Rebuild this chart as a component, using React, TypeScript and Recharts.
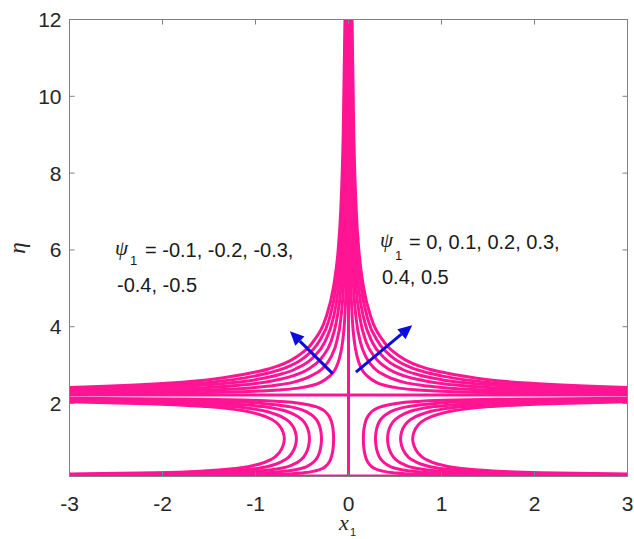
import React from 'react';
import { LineChart, Line, XAxis, YAxis, ReferenceLine } from 'recharts';

const W = 634;
const H = 539;

const xTicks = [-3, -2, -1, 0, 1, 2, 3];
const yTicks = [2, 4, 6, 8, 10, 12];

// lignes du jet (partie haute), côté droit : psi1 > 0
const fanRight = [
  [[0.006, 12], [0.009, 9], [0.014, 7], [0.019, 6], [0.027, 5], [0.041, 4.2], [0.064, 3.6], [0.095, 3.2], [0.14, 2.9], [0.21, 2.7], [0.3, 2.55], [0.5, 2.42], [0.75, 2.35], [1, 2.32], [1.5, 2.29], [2, 2.27], [3, 2.25]],
  [[0.013, 12], [0.019, 9], [0.028, 7], [0.037, 6], [0.055, 5], [0.083, 4.2], [0.128, 3.6], [0.19, 3.2], [0.285, 2.9], [0.42, 2.7], [0.6, 2.55], [0.8, 2.47], [1, 2.42], [1.5, 2.35], [2, 2.32], [3, 2.29]],
  [[0.019, 12], [0.028, 9], [0.042, 7], [0.056, 6], [0.082, 5], [0.125, 4.2], [0.19, 3.6], [0.285, 3.2], [0.43, 2.9], [0.6, 2.72], [0.8, 2.6], [1, 2.52], [1.5, 2.42], [2, 2.37], [3, 2.32]],
  [[0.025, 12], [0.038, 9], [0.056, 7], [0.074, 6], [0.109, 5], [0.166, 4.2], [0.255, 3.6], [0.38, 3.2], [0.57, 2.9], [0.75, 2.75], [1, 2.62], [1.5, 2.49], [2, 2.42], [3, 2.35]],
  [[0.032, 12], [0.047, 9], [0.07, 7], [0.092, 6], [0.137, 5], [0.207, 4.2], [0.32, 3.6], [0.474, 3.2], [0.71, 2.9], [0.85, 2.8], [1, 2.72], [1.5, 2.55], [2, 2.47], [3, 2.39]],
  [[0.038, 12], [0.057, 9], [0.084, 7], [0.111, 6], [0.164, 5], [0.248, 4.2], [0.383, 3.6], [0.57, 3.2], [0.86, 2.9], [1, 2.82], [1.5, 2.62], [2, 2.52], [3, 2.42]],
];

// côté gauche : psi1 < 0
const fanLeft = [
  [[-3, 2.25], [-2, 2.27], [-1.5, 2.29], [-1, 2.32], [-0.75, 2.35], [-0.5, 2.42], [-0.3, 2.55], [-0.21, 2.7], [-0.14, 2.9], [-0.095, 3.2], [-0.064, 3.6], [-0.041, 4.2], [-0.027, 5], [-0.019, 6], [-0.014, 7], [-0.009, 9], [-0.006, 12]],
  [[-3, 2.29], [-2, 2.32], [-1.5, 2.35], [-1, 2.42], [-0.8, 2.47], [-0.6, 2.55], [-0.42, 2.7], [-0.285, 2.9], [-0.19, 3.2], [-0.128, 3.6], [-0.083, 4.2], [-0.055, 5], [-0.037, 6], [-0.028, 7], [-0.019, 9], [-0.013, 12]],
  [[-3, 2.32], [-2, 2.37], [-1.5, 2.42], [-1, 2.52], [-0.8, 2.6], [-0.6, 2.72], [-0.43, 2.9], [-0.285, 3.2], [-0.19, 3.6], [-0.125, 4.2], [-0.082, 5], [-0.056, 6], [-0.042, 7], [-0.028, 9], [-0.019, 12]],
  [[-3, 2.35], [-2, 2.42], [-1.5, 2.49], [-1, 2.62], [-0.75, 2.75], [-0.57, 2.9], [-0.38, 3.2], [-0.255, 3.6], [-0.166, 4.2], [-0.109, 5], [-0.074, 6], [-0.056, 7], [-0.038, 9], [-0.025, 12]],
  [[-3, 2.39], [-2, 2.47], [-1.5, 2.55], [-1, 2.72], [-0.85, 2.8], [-0.71, 2.9], [-0.474, 3.2], [-0.32, 3.6], [-0.207, 4.2], [-0.137, 5], [-0.092, 6], [-0.07, 7], [-0.047, 9], [-0.032, 12]],
  [[-3, 2.42], [-2, 2.52], [-1.5, 2.62], [-1, 2.82], [-0.86, 2.9], [-0.57, 3.2], [-0.383, 3.6], [-0.248, 4.2], [-0.164, 5], [-0.111, 6], [-0.084, 7], [-0.057, 9], [-0.038, 12]],
];

// courbes en C sous la ligne psi1 = 0 (de haut en bas)
const cRight = [
  [[3, 2.14], [1.6, 2.11], [1.12, 2.09], [0.72, 2.05], [0.48, 1.99], [0.352, 1.92], [0.272, 1.83], [0.224, 1.72], [0.192, 1.59], [0.173, 1.43], [0.163, 1.26], [0.16, 1.08], [0.163, 0.9], [0.173, 0.72], [0.192, 0.55], [0.224, 0.42], [0.272, 0.32], [0.352, 0.25], [0.48, 0.2], [0.72, 0.16], [1.12, 0.14], [1.6, 0.13], [3, 0.12]],
  [[3, 2.115], [2.03, 2.09], [1.305, 2.05], [0.87, 1.99], [0.638, 1.92], [0.493, 1.83], [0.406, 1.72], [0.348, 1.59], [0.313, 1.43], [0.296, 1.26], [0.29, 1.08], [0.296, 0.9], [0.313, 0.72], [0.348, 0.55], [0.406, 0.42], [0.493, 0.32], [0.638, 0.25], [0.87, 0.2], [1.305, 0.16], [2.03, 0.14], [3, 0.13]],
  [[3, 2.09], [1.89, 2.05], [1.26, 1.99], [0.924, 1.92], [0.714, 1.83], [0.588, 1.72], [0.504, 1.59], [0.454, 1.43], [0.428, 1.26], [0.42, 1.08], [0.428, 0.9], [0.454, 0.72], [0.504, 0.55], [0.588, 0.42], [0.714, 0.32], [0.924, 0.25], [1.26, 0.2], [1.89, 0.16], [3, 0.14]],
  [[3, 2.065], [2.52, 2.05], [1.68, 1.99], [1.232, 1.92], [0.952, 1.83], [0.784, 1.72], [0.672, 1.59], [0.605, 1.43], [0.571, 1.26], [0.56, 1.08], [0.571, 0.9], [0.605, 0.72], [0.672, 0.55], [0.784, 0.42], [0.952, 0.32], [1.232, 0.25], [1.68, 0.2], [2.52, 0.16], [3, 0.15]],
  [[3, 2.045], [2.07, 1.99], [1.518, 1.92], [1.173, 1.83], [0.966, 1.72], [0.828, 1.59], [0.745, 1.43], [0.704, 1.26], [0.69, 1.08], [0.704, 0.9], [0.745, 0.72], [0.828, 0.55], [0.966, 0.42], [1.173, 0.32], [1.518, 0.25], [2.07, 0.2], [3, 0.165]],
];

const cLeft = [
  [[-3, 2.14], [-1.6, 2.11], [-1.12, 2.09], [-0.72, 2.05], [-0.48, 1.99], [-0.352, 1.92], [-0.272, 1.83], [-0.224, 1.72], [-0.192, 1.59], [-0.173, 1.43], [-0.163, 1.26], [-0.16, 1.08], [-0.163, 0.9], [-0.173, 0.72], [-0.192, 0.55], [-0.224, 0.42], [-0.272, 0.32], [-0.352, 0.25], [-0.48, 0.2], [-0.72, 0.16], [-1.12, 0.14], [-1.6, 0.13], [-3, 0.12]],
  [[-3, 2.115], [-2.03, 2.09], [-1.305, 2.05], [-0.87, 1.99], [-0.638, 1.92], [-0.493, 1.83], [-0.406, 1.72], [-0.348, 1.59], [-0.313, 1.43], [-0.296, 1.26], [-0.29, 1.08], [-0.296, 0.9], [-0.313, 0.72], [-0.348, 0.55], [-0.406, 0.42], [-0.493, 0.32], [-0.638, 0.25], [-0.87, 0.2], [-1.305, 0.16], [-2.03, 0.14], [-3, 0.13]],
  [[-3, 2.09], [-1.89, 2.05], [-1.26, 1.99], [-0.924, 1.92], [-0.714, 1.83], [-0.588, 1.72], [-0.504, 1.59], [-0.454, 1.43], [-0.428, 1.26], [-0.42, 1.08], [-0.428, 0.9], [-0.454, 0.72], [-0.504, 0.55], [-0.588, 0.42], [-0.714, 0.32], [-0.924, 0.25], [-1.26, 0.2], [-1.89, 0.16], [-3, 0.14]],
  [[-3, 2.065], [-2.52, 2.05], [-1.68, 1.99], [-1.232, 1.92], [-0.952, 1.83], [-0.784, 1.72], [-0.672, 1.59], [-0.605, 1.43], [-0.571, 1.26], [-0.56, 1.08], [-0.571, 0.9], [-0.605, 0.72], [-0.672, 0.55], [-0.784, 0.42], [-0.952, 0.32], [-1.232, 0.25], [-1.68, 0.2], [-2.52, 0.16], [-3, 0.15]],
  [[-3, 2.045], [-2.07, 1.99], [-1.518, 1.92], [-1.173, 1.83], [-0.966, 1.72], [-0.828, 1.59], [-0.745, 1.43], [-0.704, 1.26], [-0.69, 1.08], [-0.704, 0.9], [-0.745, 0.72], [-0.828, 0.55], [-0.966, 0.42], [-1.173, 0.32], [-1.518, 0.25], [-2.07, 0.2], [-3, 0.165]],
];

// psi1 = 0
const zeroVertical = [[0, 0.1], [0, 12]];
const zeroHorizontal = [[-3, 2.22], [3, 2.22]];
const wallLine = [[-2.85, 0.11], [2.85, 0.11]];

// flèches bleues (queue, pointe)
const arrowLeft = [[-0.17, 2.78], [-0.63, 3.88]];
const arrowRight = [[0.08, 2.82], [0.685, 4.04]];

const PINK = '#ff1493';
const BLUE = '#0c0cdc';
const AXIS = '#808080';
const SANS = '"Liberation Sans", Arial, sans-serif';
const SERIF = '"Liberation Serif", "Times New Roman", serif';

// zone de tracé (px) : sert au cadre haut/droite
const PLOT = { left: 69.5, top: 19.5, right: 627.5, bottom: 476.5 };

const toPts = (arr: number[][]) => arr.map(([x, y]) => ({ x, y }));

const ArrowShape = (props: any) => {
  const { x1, y1, x2, y2 } = props;
  const a = Math.atan2(y2 - y1, x2 - x1);
  const len = 14;
  const half = 6.5;
  const bx = x2 - len * Math.cos(a);
  const by = y2 - len * Math.sin(a);
  const pts = [
    `${x2},${y2}`,
    `${bx + half * Math.sin(a)},${by - half * Math.cos(a)}`,
    `${bx - half * Math.sin(a)},${by + half * Math.cos(a)}`,
  ].join(' ');
  return (
    <g>
      <line x1={x1} y1={y1} x2={bx} y2={by} stroke={BLUE} strokeWidth={3} />
      <polygon points={pts} fill={BLUE} />
    </g>
  );
};

const curveLine = (pts: number[][], key: string, type: any) => (
  <Line
    key={key}
    data={toPts(pts)}
    dataKey="y"
    type={type}
    stroke={PINK}
    strokeWidth={3}
    dot={false}
    activeDot={false}
    isAnimationActive={false}
  />
);

export default function App() {
  const tickStyle = { fill: '#262626', fontSize: 21, fontFamily: SANS };
  const { left, top, right, bottom } = PLOT;
  const topTicks = xTicks.map((t) => left + ((t + 3) / 6) * (right - left));
  const rightTicks = yTicks.map((t) => bottom - ((t - 0.1) / 11.9) * (bottom - top));
  return (
    <div style={{ position: 'absolute', left: 0, top: 0, width: W, height: H, background: '#fff' }}>
      <LineChart width={W} height={H} margin={{ top: 19.5, right: 6.5, bottom: 0, left: 0 }}>
        <XAxis
          type="number"
          dataKey="x"
          domain={[-3, 3]}
          ticks={xTicks}
          interval={0}
          allowDataOverflow
          height={62.5}
          stroke={AXIS}
          tickSize={-5}
          tickMargin={25}
          tick={tickStyle}
        />
        <YAxis
          type="number"
          domain={[0.1, 12]}
          ticks={yTicks}
          interval={0}
          allowDataOverflow
          width={69.5}
          stroke={AXIS}
          tickSize={-5}
          tickMargin={13}
          tick={tickStyle}
        />
        {fanRight.map((p, i) => curveLine(p, `fr${i}`, 'monotoneX'))}
        {fanLeft.map((p, i) => curveLine(p, `fl${i}`, 'monotoneX'))}
        {cRight.map((p, i) => curveLine(p, `cr${i}`, 'monotoneY'))}
        {cLeft.map((p, i) => curveLine(p, `cl${i}`, 'monotoneY'))}
        {curveLine(zeroVertical, 'zv', 'linear')}
        {curveLine(zeroHorizontal, 'zh', 'linear')}
        {curveLine(wallLine, 'wall', 'linear')}
        <ReferenceLine segment={toPts(arrowLeft)} shape={ArrowShape} />
        <ReferenceLine segment={toPts(arrowRight)} shape={ArrowShape} />
      </LineChart>
      <svg
        width={W}
        height={H}
        style={{ position: 'absolute', left: 0, top: 0, pointerEvents: 'none' }}
      >
        {/* cadre haut et droite, graduations vers l'intérieur */}
        <g stroke={AXIS} strokeWidth={1} fill="none">
          <line x1={left} y1={top} x2={right} y2={top} />
          <line x1={right} y1={top} x2={right} y2={bottom} />
          {topTicks.map((v, i) => (
            <line key={`tt${i}`} x1={v} y1={top} x2={v} y2={top + 5} />
          ))}
          {rightTicks.map((v, i) => (
            <line key={`rt${i}`} x1={right} y1={v} x2={right - 5} y2={v} />
          ))}
        </g>
        <g fill="#1a1a1a">
          <text x={115} y={255} fontFamily={SERIF} fontStyle="italic" fontSize={21}>ψ</text>
          <text x={130} y={265} fontFamily={SANS} fontSize={13}>1</text>
          <text x={145} y={257} fontFamily={SANS} fontSize={20}>= -0.1, -0.2, -0.3,</text>
          <text x={117} y={292} fontFamily={SANS} fontSize={20}>-0.4, -0.5</text>

          <text x={380} y={247} fontFamily={SERIF} fontStyle="italic" fontSize={21}>ψ</text>
          <text x={395} y={260} fontFamily={SANS} fontSize={13}>1</text>
          <text x={409} y={249} fontFamily={SANS} fontSize={20}>= 0, 0.1, 0.2, 0.3,</text>
          <text x={382} y={284} fontFamily={SANS} fontSize={20}>0.4, 0.5</text>
        </g>
        <g fill="#262626">
          <text transform="translate(25,248) rotate(-90)" textAnchor="middle" fontFamily={SERIF} fontStyle="italic" fontSize={23}>η</text>
          <text x={339} y={530} fontFamily={SERIF} fontStyle="italic" fontSize={22}>x</text>
          <text x={350} y={536} fontFamily={SANS} fontSize={11}>1</text>
        </g>
      </svg>
    </div>
  );
}
